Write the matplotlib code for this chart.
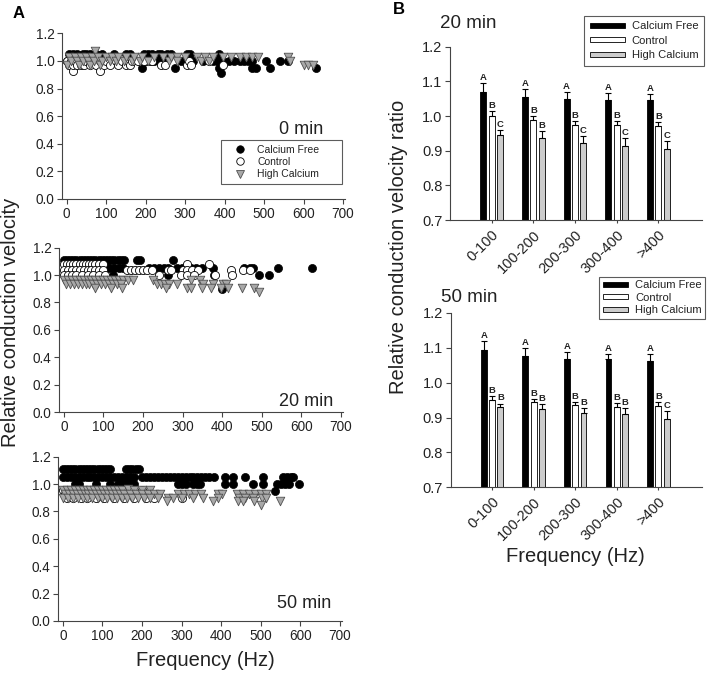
import matplotlib
matplotlib.use('Agg')
import matplotlib.pyplot as plt
from matplotlib.lines import Line2D
from matplotlib.patches import Patch
import numpy as np

plt.rcParams['font.family'] = ['Liberation Sans', 'DejaVu Sans']

W, H = 709, 676

# ---- panel A data: (frequency Hz, relative conduction velocity) ----
a0_free = [(0,1.0),(5,1.05),(10,1.0),(15,1.05),(20,1.0),(25,1.05),(30,1.0),(40,1.05),(45,1.0),
           (50,1.05),(55,1.0),(60,1.05),(65,1.0),(75,1.05),(80,1.0),(90,1.05),(95,1.0),(105,1.0),
           (115,1.0),(120,1.05),(130,1.0),(140,1.0),(150,1.05),(155,1.0),(160,1.05),(190,0.95),
           (195,1.05),(200,1.0),(205,1.05),(210,1.0),(215,1.05),(220,1.0),(230,1.05),(235,1.0),
           (240,1.05),(250,1.0),(255,1.05),(265,1.05),(275,0.95),(290,1.0),(300,1.0),(305,1.05),
           (312,1.05),(320,1.0),(345,1.0),(370,1.0),(380,1.0),(385,1.05),(385,0.95),(392,0.91),
           (395,1.0),(410,1.0),(425,1.0),(440,1.0),(450,1.0),(460,1.0),(470,1.0),(470,0.95),
           (480,0.95),(505,1.0),(515,0.95),(540,1.0),(560,1.0),(632,0.95)]
a0_ctrl = [(0,1.0),(5,0.97),(10,1.0),(15,0.93),(15,0.97),(20,1.0),(25,0.97),(30,1.03),(35,1.0),
           (35,0.97),(45,0.97),(50,1.0),(60,0.97),(65,1.0),(70,1.03),(75,0.97),(85,0.93),(85,1.0),
           (95,0.97),(100,1.0),(110,0.97),(120,1.03),(125,1.0),(130,0.97),(140,1.0),(150,0.97),
           (155,1.0),(160,0.97),(165,1.0),(180,1.0),(195,1.0),(215,1.0),(240,0.97),(250,0.97),
           (305,0.97),(310,1.0),(315,0.97),(360,1.0),(395,0.97)]
a0_high = [(0,0.97),(5,1.03),(10,1.0),(20,1.03),(25,1.0),(30,0.97),(35,1.03),(40,1.0),(50,1.03),
           (55,1.0),(60,0.97),(65,1.03),(70,1.0),(72,1.07),(80,1.03),(85,0.97),(90,1.0),(100,1.03),
           (110,1.0),(115,1.03),(125,1.0),(130,1.03),(145,1.0),(150,1.03),(165,1.0),(170,1.03),
           (185,1.0),(190,1.03),(205,1.0),(220,1.03),(245,1.03),(260,1.0),(265,1.03),(280,1.03),
           (280,1.0),(300,1.03),(330,1.03),(340,1.0),(350,1.03),(360,1.0),(370,1.03),(395,1.03),
           (415,1.03),(440,1.03),(455,1.03),(470,1.03),(485,1.03),(560,1.03),(565,1.0),(600,0.97),
           (612,0.97),(625,0.97)]

a20_free = [(0,1.11),(8,1.11),(16,1.11),(24,1.11),(32,1.11),(40,1.11),(48,1.11),(56,1.11),(64,1.11),
            (72,1.11),(80,1.11),(88,1.11),(96,1.11),(104,1.11),(112,1.11),(120,1.11),(128,1.11),
            (136,1.11),(144,1.11),(152,1.11),(186,1.11),(193,1.11),(276,1.11),(115,1.05),(128,1.05),
            (140,1.05),(150,1.05),(215,1.05),(228,1.05),(240,1.05),(252,1.05),(262,1.05),(285,1.05),
            (298,1.05),(310,1.05),(322,1.05),(335,1.05),(348,1.05),(378,1.05),(455,1.05),(470,1.05),
            (478,1.05),(542,1.05),(627,1.05),(82,1.0),(125,1.0),(262,1.0),(380,1.0),(494,1.0),
            (519,1.0),(400,0.9)]
a20_ctrl = [(0,1.08),(8,1.08),(16,1.08),(24,1.08),(32,1.08),(40,1.08),(48,1.08),(56,1.08),(64,1.08),
            (72,1.08),(80,1.08),(90,1.08),(100,1.08),(312,1.08),(367,1.08),
            (0,1.04),(10,1.04),(20,1.04),(30,1.04),(40,1.04),(50,1.04),(60,1.04),(70,1.04),(80,1.04),
            (90,1.04),(100,1.04),(160,1.04),(170,1.04),(180,1.04),(190,1.04),(200,1.04),(210,1.04),
            (222,1.04),(262,1.04),(272,1.04),(300,1.04),(312,1.04),(325,1.04),(340,1.04),(423,1.04),
            (452,1.04),(469,1.04),
            (0,1.0),(10,1.0),(20,1.0),(30,1.0),(45,1.0),(60,1.0),(75,1.0),(90,1.0),(105,1.0),
            (240,1.0),(295,1.0),(310,1.0),(330,1.0),(381,1.0),(426,1.0)]
a20_high = [(0,0.965),(10,0.965),(20,0.965),(30,0.965),(40,0.965),(50,0.965),(60,0.965),(70,0.965),
            (80,0.965),(90,0.965),(100,0.965),(110,0.965),(120,0.965),(130,0.965),(140,0.965),
            (150,0.965),(162,0.965),(176,0.965),(225,0.965),(320,0.965),(345,0.965),
            (5,0.935),(15,0.935),(25,0.935),(35,0.935),(45,0.935),(55,0.935),(65,0.935),(75,0.935),
            (85,0.935),(95,0.935),(105,0.935),(115,0.935),(125,0.935),(135,0.935),(145,0.935),
            (235,0.935),(245,0.935),(255,0.935),(265,0.935),(285,0.935),(352,0.935),(376,0.935),
            (402,0.935),(410,0.935),
            (78,0.905),(120,0.905),(148,0.905),(258,0.905),(310,0.905),(322,0.905),(348,0.905),
            (372,0.905),(398,0.905),(414,0.905),(450,0.905),(480,0.905),(492,0.88)]

a50_free = [(0,1.11),(8,1.11),(16,1.11),(24,1.11),(32,1.11),(40,1.11),(48,1.11),(56,1.11),(64,1.11),
            (72,1.11),(80,1.11),(88,1.11),(96,1.11),(104,1.11),(112,1.11),(120,1.11),(160,1.11),
            (168,1.11),(176,1.11),(184,1.11),(192,1.11),
            (0,1.055),(10,1.055),(20,1.055),(30,1.055),(40,1.055),(50,1.055),(60,1.055),(70,1.055),
            (80,1.055),(90,1.055),(100,1.055),(110,1.055),(120,1.055),(130,1.055),(140,1.055),
            (150,1.055),(160,1.055),(170,1.055),(180,1.055),(200,1.055),(210,1.055),(220,1.055),
            (230,1.055),(240,1.055),(250,1.055),(260,1.055),(270,1.055),(280,1.055),(290,1.055),
            (300,1.055),(310,1.055),(320,1.055),(330,1.055),(340,1.055),(350,1.055),(360,1.055),
            (370,1.055),(382,1.055),(410,1.055),(430,1.055),(460,1.055),(505,1.055),(555,1.055),
            (565,1.055),(575,1.055),(582,1.055),
            (32,1.0),(42,1.0),(85,1.0),(120,1.0),(140,1.0),(150,1.0),(160,1.0),(170,1.0),(180,1.0),
            (290,1.0),(300,1.0),(310,1.0),(330,1.0),(338,1.0),(346,1.0),(410,1.0),(430,1.0),
            (480,1.0),(505,1.0),(540,1.0),(550,1.0),(562,1.0),(570,1.0),(596,1.0),(535,0.95)]
a50_ctrl = [(0,0.96),(15,0.96),(30,0.96),(50,0.96),(65,0.96),(80,0.96),(100,0.96),(120,0.96),
            (145,0.96),(170,0.96),(200,0.96),
            (5,0.93),(20,0.93),(35,0.93),(55,0.93),(70,0.93),(90,0.93),(110,0.93),(135,0.93),
            (160,0.93),(190,0.93),(215,0.93),(240,0.93),
            (10,0.9),(25,0.9),(45,0.9),(60,0.9),(85,0.9),(105,0.9),(130,0.9),(155,0.9),(180,0.9),
            (210,0.9),(230,0.9),(300,0.9)]
a50_high = [(0,0.96),(10,0.96),(20,0.96),(30,0.96),(40,0.96),(50,0.96),(60,0.96),(70,0.96),(80,0.96),
            (90,0.96),(100,0.96),(110,0.96),(120,0.96),(130,0.96),(140,0.96),(150,0.96),(165,0.965),
            (180,0.96),(200,0.96),(220,0.96),
            (5,0.93),(15,0.93),(25,0.93),(35,0.93),(45,0.93),(55,0.93),(65,0.93),(75,0.93),(85,0.93),
            (95,0.93),(105,0.93),(115,0.93),(125,0.93),(135,0.93),(145,0.93),(155,0.93),(170,0.93),
            (185,0.93),(200,0.93),(215,0.93),(230,0.93),(245,0.93),(292,0.93),(305,0.93),(318,0.93),
            (335,0.93),(348,0.93),(392,0.93),(402,0.93),(440,0.93),(455,0.93),(470,0.93),(485,0.93),
            (500,0.93),(512,0.93),
            (0,0.9),(12,0.9),(25,0.9),(38,0.9),(50,0.9),(62,0.9),(75,0.9),(88,0.9),(100,0.9),
            (112,0.9),(125,0.9),(138,0.9),(150,0.9),(162,0.9),(175,0.9),(190,0.9),(205,0.9),
            (220,0.9),(240,0.9),(265,0.9),(278,0.9),(300,0.9),(330,0.9),(355,0.9),(392,0.9),
            (445,0.9),(460,0.9),(480,0.9),(502,0.9),(512,0.9),
            (262,0.875),(380,0.875),(442,0.875),(456,0.875),(482,0.875),(548,0.875),(500,0.845)]

# ---- panel B data ----
bins = ['0-100', '100-200', '200-300', '300-400', '>400']
b20_free = [1.069, 1.056, 1.049, 1.047, 1.045]
b20_free_err = [0.025, 0.023, 0.019, 0.020, 0.019]
b20_ctrl = [1.000, 0.988, 0.974, 0.974, 0.971]
b20_ctrl_err = [0.014, 0.013, 0.011, 0.012, 0.013]
b20_high = [0.945, 0.938, 0.923, 0.914, 0.905]
b20_high_err = [0.014, 0.018, 0.018, 0.022, 0.023]
b20_letters = [['A', 'B', 'C'], ['A', 'B', 'B'], ['A', 'B', 'C'], ['A', 'B', 'C'], ['A', 'B', 'C']]

b50_free = [1.094, 1.076, 1.067, 1.067, 1.063]
b50_free_err = [0.024, 0.024, 0.020, 0.016, 0.019]
b50_ctrl = [0.950, 0.943, 0.935, 0.931, 0.933]
b50_ctrl_err = [0.011, 0.010, 0.010, 0.010, 0.011]
b50_high = [0.929, 0.924, 0.912, 0.911, 0.895]
b50_high_err = [0.011, 0.014, 0.016, 0.016, 0.024]
b50_letters = [['A', 'B', 'B'], ['A', 'B', 'B'], ['A', 'B', 'B'], ['A', 'B', 'B'], ['A', 'B', 'C']]

AX_COL = '#444444'
TXT_COL = '#222222'
TRI_FACE = '#a8a8a8'
BAR_GRAY = '#cccccc'


def px_box(l, t, r, b):
    return [l / W, 1 - b / H, (r - l) / W, (b - t) / H]


def style_axes(ax, labelsize):
    for s in ['top', 'right']:
        ax.spines[s].set_visible(False)
    for s in ['left', 'bottom']:
        ax.spines[s].set_color(AX_COL)
        ax.spines[s].set_linewidth(0.8)
    ax.tick_params(direction='out', length=3.5, width=0.8, color=AX_COL,
                   labelsize=labelsize, labelcolor=TXT_COL, pad=2)


def scatter_panel(ax, free, ctrl, high, tag, tag_xy):
    fx_, fy_ = zip(*free)
    cx_, cy_ = zip(*ctrl)
    hx_, hy_ = zip(*high)
    ax.scatter(fx_, fy_, s=34, c='black', edgecolors='black', linewidths=0.5, zorder=3, clip_on=False)
    ax.scatter(cx_, cy_, s=34, c='white', edgecolors='black', linewidths=0.6, zorder=4, clip_on=False)
    ax.scatter(hx_, hy_, s=38, marker='v', c=TRI_FACE, edgecolors='#505050', linewidths=0.6,
               zorder=5, clip_on=False)
    ax.set_xlim(-12, 705)
    ax.set_ylim(0, 1.2)
    ax.set_xticks(np.arange(0, 701, 100))
    ax.set_yticks(np.arange(0, 1.21, 0.2))
    ax.set_yticklabels([f'{v:.1f}' for v in np.arange(0, 1.21, 0.2)])
    style_axes(ax, 9.8)
    fig.text(tag_xy[0] / W, 1 - tag_xy[1] / H, tag, fontsize=13, ha='center', va='center', color=TXT_COL)


def bar_panel(ax, free, free_err, ctrl, ctrl_err, high, high_err, letters):
    x = np.arange(1, len(bins) + 1)
    w = 0.14
    off = 0.2
    groups = [(x - off, free, free_err, 'black'),
              (x, ctrl, ctrl_err, 'white'),
              (x + off, high, high_err, BAR_GRAY)]
    for k, (xs, vals, errs, col) in enumerate(groups):
        ax.bar(xs, vals, w, color=col, edgecolor='black', linewidth=0.6, zorder=2)
        ax.errorbar(xs, vals, yerr=[np.zeros(len(vals)), errs], fmt='none', ecolor='black',
                    elinewidth=0.8, capsize=2, capthick=0.8, zorder=3)
        for i in range(len(vals)):
            ax.text(xs[i], vals[i] + errs[i] + 0.003, letters[i][k], fontsize=6.8,
                    fontweight='bold', ha='center', va='bottom', color=TXT_COL)
    ax.set_xlim(0, 6.05)
    ax.set_ylim(0.7, 1.2)
    ax.set_yticks(np.arange(0.7, 1.201, 0.1))
    ax.set_yticklabels([f'{v:.1f}' for v in np.arange(0.7, 1.201, 0.1)])
    ax.set_xticks(x)
    ax.set_xticklabels(bins, rotation=45, ha='right', rotation_mode='anchor')
    style_axes(ax, 10.5)
    ax.tick_params(axis='x', length=2.5, pad=3)


def bar_legend(ax, anchor, hlen, fs, lspace, bpad):
    handles = [Patch(facecolor='black', edgecolor='black', linewidth=0.6),
               Patch(facecolor='white', edgecolor='black', linewidth=0.6),
               Patch(facecolor=BAR_GRAY, edgecolor='black', linewidth=0.6)]
    leg = ax.legend(handles, ['Calcium Free', 'Control', 'High Calcium'], loc='upper right',
                    bbox_to_anchor=anchor, bbox_transform=fig.transFigure, fontsize=fs,
                    frameon=True, fancybox=False, handlelength=hlen, handleheight=0.35,
                    handletextpad=0.6, labelspacing=lspace, borderpad=bpad, borderaxespad=0)
    leg.get_frame().set_edgecolor('#333333')
    leg.get_frame().set_linewidth(0.8)
    for t in leg.get_texts():
        t.set_color(TXT_COL)


fig = plt.figure(figsize=(7.09, 6.76), dpi=100)

# panel A
ax0 = fig.add_axes(px_box(62, 33.3, 345, 199))
scatter_panel(ax0, a0_free, a0_ctrl, a0_high, '0 min', (301, 129))
ax1 = fig.add_axes(px_box(59, 247.7, 343, 412))
scatter_panel(ax1, a20_free, a20_ctrl, a20_high, '20 min', (306, 401.5))
ax2 = fig.add_axes(px_box(58, 456.7, 342, 621))
scatter_panel(ax2, a50_free, a50_ctrl, a50_high, '50 min', (304, 604))

leg_handles = [Line2D([], [], ls='none', marker='o', ms=5.4, mfc='black', mec='black', mew=0.5),
               Line2D([], [], ls='none', marker='o', ms=5.4, mfc='white', mec='black', mew=0.6),
               Line2D([], [], ls='none', marker='v', ms=5.8, mfc=TRI_FACE, mec='#505050', mew=0.6)]
leg = ax0.legend(leg_handles, ['Calcium Free', 'Control', 'High Calcium'], loc='upper left',
                 bbox_to_anchor=(220.7 / W, 1 - 185.7 / H, 121 / W, 45.7 / H),
                 bbox_transform=fig.transFigure, mode='expand', fontsize=7.5, frameon=True,
                 fancybox=False, handlelength=2.9, handletextpad=0.15, labelspacing=0.22,
                 borderpad=0.45, borderaxespad=0)
leg.get_frame().set_edgecolor('#333333')
leg.get_frame().set_linewidth(0.8)
for t in leg.get_texts():
    t.set_color(TXT_COL)

# panel B
bx0 = fig.add_axes(px_box(450, 46.7, 702, 220))
bar_panel(bx0, b20_free, b20_free_err, b20_ctrl, b20_ctrl_err, b20_high, b20_high_err, b20_letters)
bar_legend(bx0, (704 / W, 1 - 15.7 / H), 3.2, 8, 0.4, 0.5)
bx1 = fig.add_axes(px_box(450.5, 312.8, 702, 487.3))
bar_legend(bx1, (705 / W, 1 - 277 / H), 2.3, 8, 0.22, 0.3)
bar_panel(bx1, b50_free, b50_free_err, b50_ctrl, b50_ctrl_err, b50_high, b50_high_err, b50_letters)

fig.text(468 / W, 1 - 23 / H, '20 min', fontsize=13.5, ha='center', va='center', color=TXT_COL)
fig.text(469 / W, 1 - 297 / H, '50 min', fontsize=13.5, ha='center', va='center', color=TXT_COL)

# labels
fig.text(18.5 / W, 1 - 13 / H, 'A', fontsize=12, fontweight='bold', ha='center', va='center')
fig.text(399 / W, 1 - 10 / H, 'B', fontsize=12, fontweight='bold', ha='center', va='center')
fig.text(11 / W, 1 - 322 / H, 'Relative conduction velocity', rotation=90, fontsize=14.5,
         ha='center', va='center', color=TXT_COL)
fig.text(205.5 / W, 1 - 661 / H, 'Frequency (Hz)', fontsize=14.5, ha='center', va='center', color=TXT_COL)
fig.text(399 / W, 1 - 247 / H, 'Relative conduction velocity ratio', rotation=90, fontsize=14.5,
         ha='center', va='center', color=TXT_COL)
fig.text(575 / W, 1 - 557 / H, 'Frequency (Hz)', fontsize=14.5, ha='center', va='center', color=TXT_COL)

fig.savefig('out.png', dpi=100)
